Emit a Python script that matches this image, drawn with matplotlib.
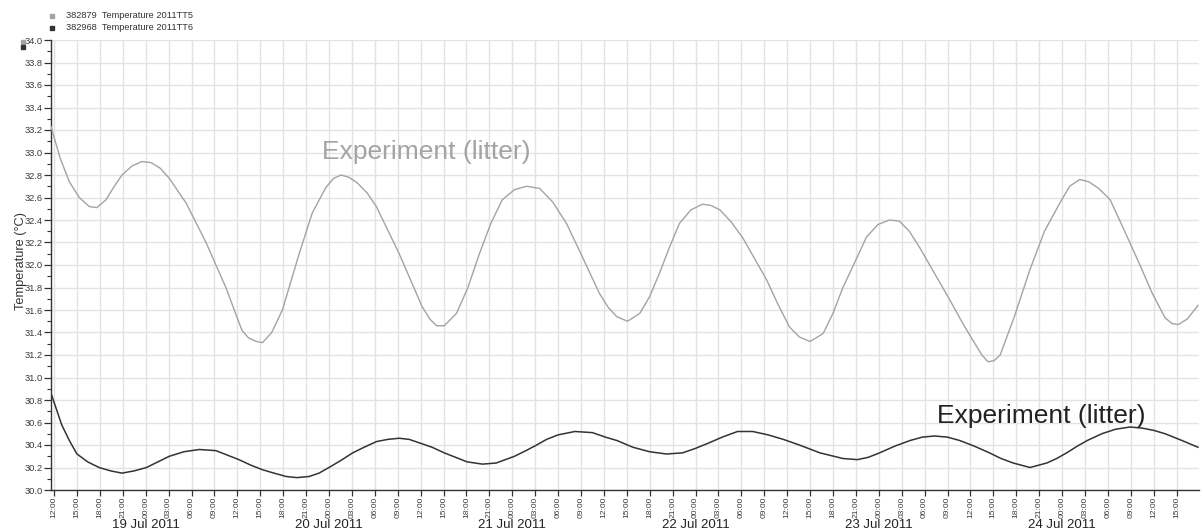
import matplotlib
matplotlib.use("Agg")
import matplotlib.pyplot as plt
import matplotlib.dates as mdates
from matplotlib.ticker import MultipleLocator
from matplotlib.patches import Rectangle
import pandas as pd

# Readings are given as hours after the first sample slot (18 Jul 2011, 12:00)
start_time = "2011-07-18 12:00"

# Logger TT5 (litter experiment, upper trace)
tt5_hours = [
    -0.4, 0.8, 2.0, 3.3, 4.6, 5.6, 6.8, 7.8, 8.9, 10.2, 11.5, 12.7, 13.9, 15.1,
    17.3, 19.9, 22.5, 23.6, 24.6, 25.5, 26.5, 27.3, 28.5, 29.9, 31.0, 32.1,
    33.8, 35.6, 36.6, 37.6, 38.6, 39.7, 41.0, 42.2, 45.2, 48.2, 49.2, 50.1,
    51.1, 52.7, 54.2, 55.7, 57.2, 58.7, 60.3, 61.9, 63.6, 65.3, 67.1, 69.2,
    71.4, 72.6, 73.7, 75.1, 76.7, 78.0, 79.3, 80.6, 81.9, 83.4, 84.9, 86.0,
    87.2, 88.7, 90.2, 93.3, 94.8, 96.3, 97.6, 99.0, 100.7, 102.0, 103.3, 104.9,
    106.4, 107.9, 109.4, 110.7, 112.0, 113.4, 117.3, 119.0, 120.6, 121.5, 122.3,
    123.1, 123.9, 125.8, 127.8, 129.7, 131.7, 133.0, 134.3, 135.5, 136.8, 138.3,
    140.2, 142.2, 143.8, 145.5, 146.4, 147.2, 148.4, 149.8,
]
tt5_values = [
    33.23, 32.95, 32.74, 32.60, 32.52, 32.51, 32.58, 32.69, 32.80, 32.88, 32.92, 32.91, 32.86, 32.77,
    32.55, 32.20, 31.80, 31.60, 31.42, 31.35, 31.32, 31.31, 31.40, 31.60, 31.85, 32.10,
    32.46, 32.69, 32.77, 32.80, 32.78, 32.73, 32.64, 32.52, 32.10, 31.63, 31.52, 31.46,
    31.46, 31.57, 31.80, 32.10, 32.37, 32.58, 32.67, 32.70, 32.68, 32.56, 32.37, 32.07,
    31.75, 31.62, 31.54, 31.50, 31.57, 31.72, 31.93, 32.16, 32.37, 32.49, 32.54, 32.53,
    32.49, 32.38, 32.24, 31.87, 31.65, 31.45, 31.36, 31.32, 31.39, 31.57, 31.80, 32.03,
    32.25, 32.36, 32.40, 32.39, 32.30, 32.15, 31.69, 31.48, 31.30, 31.20, 31.14,
    31.15, 31.20, 31.55, 31.96, 32.30, 32.55, 32.70, 32.76, 32.74, 32.68, 32.58,
    32.30, 32.00, 31.75, 31.53, 31.48, 31.47, 31.52, 31.64,
]

# Logger TT6 (lower trace)
tt6_hours = [
    -0.4, 0.3, 1.0, 2.0, 3.0, 4.4, 5.9, 7.4, 8.9, 10.5, 12.1, 13.6, 15.1, 17.0,
    19.0, 21.2, 22.7, 24.2, 25.8, 27.3, 28.8, 30.4, 31.8, 33.4, 34.7, 36.0,
    37.5, 39.1, 40.6, 42.2, 43.7, 45.2, 46.5, 47.8, 49.5, 51.1, 52.6, 54.1,
    56.1, 57.9, 60.3, 61.8, 63.2, 64.5, 66.0, 68.2, 70.5, 72.2, 73.7, 75.8,
    78.0, 80.2, 82.3, 84.0, 85.8, 87.5, 89.5, 91.5, 93.5, 95.5, 97.6, 100.3,
    103.3, 105.2, 106.6, 108.1, 110.1, 112.1, 113.7, 115.3, 117.0, 118.6, 120.5,
    122.5, 124.0, 125.6, 127.8, 130.0, 131.3, 132.6, 134.0, 135.3, 137.2, 139.0,
    140.9, 142.5, 144.0, 145.5, 147.7, 149.8,
]
tt6_values = [
    30.86, 30.72, 30.58, 30.44, 30.32, 30.25, 30.20, 30.17, 30.15, 30.17, 30.20, 30.25, 30.30, 30.34,
    30.36, 30.35, 30.31, 30.27, 30.22, 30.18, 30.15, 30.12, 30.11, 30.12, 30.15, 30.20,
    30.26, 30.33, 30.38, 30.43, 30.45, 30.46, 30.45, 30.42, 30.38, 30.33, 30.29, 30.25,
    30.23, 30.24, 30.30, 30.35, 30.40, 30.45, 30.49, 30.52, 30.51, 30.47, 30.44, 30.38,
    30.34, 30.32, 30.33, 30.37, 30.42, 30.47, 30.52, 30.52, 30.49, 30.45, 30.40, 30.33,
    30.28, 30.27, 30.29, 30.33, 30.39, 30.44, 30.47, 30.48, 30.47, 30.44, 30.39,
    30.33, 30.28, 30.24, 30.20, 30.24, 30.28, 30.33, 30.39, 30.44, 30.50, 30.54,
    30.56, 30.55, 30.53, 30.50, 30.44, 30.38,
]

series_ids = ["382879", "382968"]
series_names = ["Temperature 2011TT5", "Temperature 2011TT6"]
series_colors = ["#a3a3a3", "#333333"]
day_labels = ["19 Jul 2011", "20 Jul 2011", "21 Jul 2011",
              "22 Jul 2011", "23 Jul 2011", "24 Jul 2011"]
day_positions = ["2011-07-19", "2011-07-20", "2011-07-21",
                 "2011-07-22", "2011-07-23", "2011-07-24"]
annotation_text = "Experiment (litter)"

W, H = 1203, 531
fig = plt.figure(figsize=(W / 100, H / 100), dpi=100)
plt.rcParams["font.family"] = ["Liberation Sans", "DejaVu Sans"]

ax_left, ax_right, ax_top, ax_bottom = 51, 1199, 40, 490
ax = fig.add_axes([ax_left / W, (H - ax_bottom) / H,
                   (ax_right - ax_left) / W, (ax_bottom - ax_top) / H])

t0 = pd.Timestamp(start_time)
t5 = t0 + pd.to_timedelta(tt5_hours, unit="h")
t6 = t0 + pd.to_timedelta(tt6_hours, unit="h")
ax.plot(t5, tt5_values, color=series_colors[0], lw=1.0, zorder=3)
ax.plot(t6, tt6_values, color=series_colors[1], lw=1.1, zorder=3)

ax.set_xlim(pd.Timestamp("2011-07-18 11:36"), pd.Timestamp("2011-07-24 17:56"))
ax.set_ylim(30.0, 34.0)

tick_color = "#3a3a3a"
ax.xaxis.set_major_locator(mdates.HourLocator(byhour=range(0, 24, 3)))
ax.xaxis.set_major_formatter(mdates.DateFormatter("%H:%M"))
ax.yaxis.set_major_locator(MultipleLocator(0.2))
ax.yaxis.set_minor_locator(MultipleLocator(0.1))
ax.yaxis.set_major_formatter(plt.FuncFormatter(lambda v, p: f"{v:.1f}"))

ax.tick_params(axis="x", which="major", direction="out", length=4, width=0.9,
               color="#333333", labelsize=6.1, labelcolor=tick_color,
               labelrotation=90, pad=0.5)
ax.tick_params(axis="y", which="major", direction="out", length=5, width=0.9,
               color="#333333", labelsize=6.7, labelcolor=tick_color, pad=1)
ax.tick_params(axis="y", which="minor", direction="out", length=3, width=0.8,
               color="#333333")

ax.grid(True, which="major", color="#e3e3e3", lw=1.0, zorder=0)
for side in ("top", "right"):
    ax.spines[side].set_visible(False)
for side in ("left", "bottom"):
    ax.spines[side].set_color("#333333")
    ax.spines[side].set_linewidth(1.0)

ax.set_ylabel("Temperature (°C)", fontsize=9.2, color="#333333")
ax.yaxis.set_label_coords(-0.021, 0.51)

# day captions under the midnight ticks
for lab, pos in zip(day_labels, day_positions):
    ax.annotate(lab, xy=(mdates.date2num(pd.Timestamp(pos)), 0),
                xycoords=("data", "axes fraction"),
                xytext=(0, -34.5 * 0.72), textcoords="offset points",
                ha="center", va="center", fontsize=9.5, color="#222222")

# series annotations
ax.text(mdates.date2num(pd.Timestamp("2011-07-19 23:06")), 33.0, annotation_text,
        fontsize=19, color="#a3a3a3", ha="left", va="center", zorder=4)
ax.text(mdates.date2num(pd.Timestamp("2011-07-23 07:36")), 30.66, annotation_text,
        fontsize=19, color="#222222", ha="left", va="center", zorder=4)

# legend block at the top left
legend_y = [16, 28]
for i in range(2):
    yy = legend_y[i]
    fig.patches.append(Rectangle(((ax_left - 1) / W, (H - yy - 2) / H), 4 / W, 4 / H,
                                 transform=fig.transFigure, color=series_colors[i]))
    fig.text(66 / W, (H - yy) / H, f"{series_ids[i]}  {series_names[i]}",
             fontsize=6.7, color="#333333", ha="left", va="center")

# series swatches beside the axis top
for i, yy in enumerate([40, 45]):
    fig.patches.append(Rectangle((21 / W, (H - yy - 4) / H), 4 / W, 4 / H,
                                 transform=fig.transFigure, color=series_colors[i]))

fig.savefig("out.png", dpi=100)
